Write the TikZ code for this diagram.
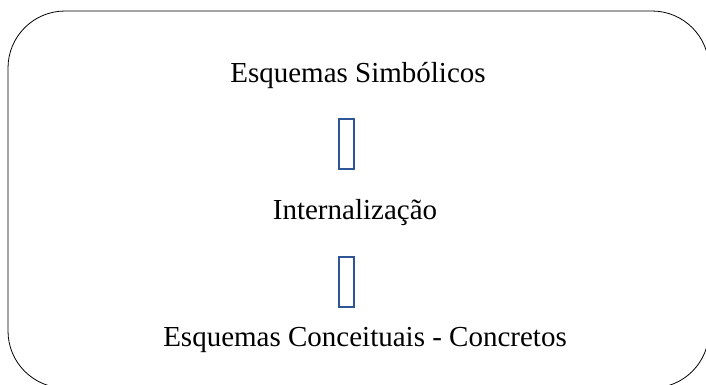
\documentclass[tikz,border=0pt]{standalone}
\usepackage{fontspec}
\setmainfont{Liberation Serif}
\definecolor{glyphblue}{RGB}{47,85,151}
\begin{document}
\begin{tikzpicture}[x=1pt, y=-1pt,
  txt/.style = {anchor=base, inner sep=0pt, font=\fontsize{29}{34}\selectfont},
  glyph/.style = {draw=glyphblue, line width=2pt, minimum width=15pt, minimum height=50pt, inner sep=0pt}]
\useasboundingbox (0,0) rectangle (706,384);
\clip (0,0) rectangle (706,384);
\draw[rounded corners=57pt, line width=0.8pt] (8,11) rectangle (709,388);

\node[txt] (simb) at (358,82) {Esquemas Simbólicos};
\node[glyph] (g1) at (346.5,144) {};
\node[txt] (intern) at (355,219) {Internalização};
\node[glyph] (g2) at (346.5,282) {};
\node[txt] (conc) at (365,346) {Esquemas Conceituais - Concretos};
\end{tikzpicture}
\end{document}
